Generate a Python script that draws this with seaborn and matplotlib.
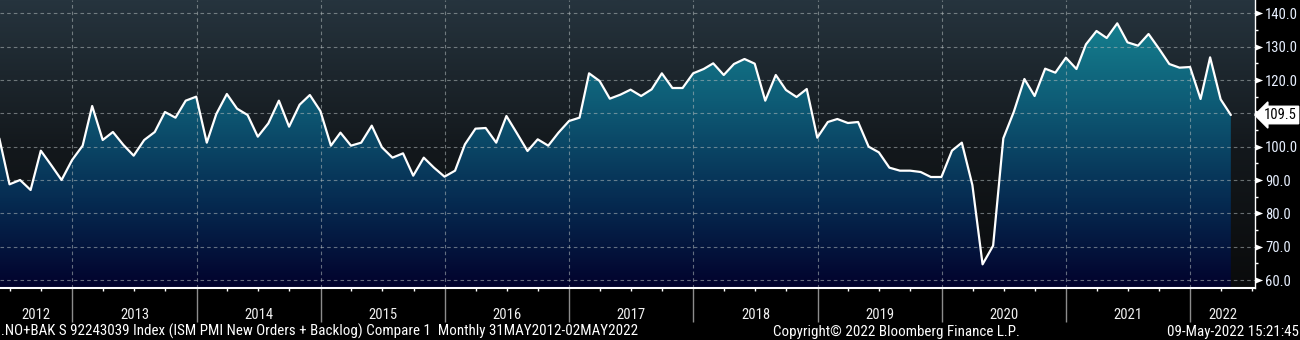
import numpy as np
import pandas as pd
import matplotlib
matplotlib.use("Agg")
import matplotlib.pyplot as plt
import matplotlib.dates as mdates
import matplotlib.transforms as mtransforms
from matplotlib.colors import LinearSegmentedColormap
from matplotlib.path import Path
import seaborn as sns

# ISM PMI New Orders + Backlog, monthly, May 2012 .. Apr 2022
values = [
    102.5, 88.7, 90.0, 87.0, 98.8, 94.4, 90.0, 96.0,
    100.3, 112.2, 102.0, 104.4, 100.5, 97.3, 102.0, 104.4, 110.4, 108.7, 113.8, 115.0,
    101.2, 109.8, 115.8, 111.4, 109.5, 103.0, 107.0, 113.8, 106.0, 112.6, 115.5, 110.7,
    100.3, 104.2, 100.3, 101.2, 106.3, 99.8, 96.7, 98.0, 91.3, 96.7, 93.7, 91.0,
    92.8, 100.7, 105.4, 105.6, 101.2, 109.2, 104.0, 98.7, 102.2, 100.3, 104.2, 107.7,
    108.7, 122.0, 119.7, 114.4, 115.6, 117.1, 115.2, 117.2, 122.0, 117.6, 117.6, 122.0,
    123.3, 125.0, 121.5, 124.8, 126.3, 124.9, 113.8, 121.5, 117.0, 114.9, 117.3, 102.7,
    107.4, 108.3, 107.1, 107.4, 100.0, 98.3, 93.7, 92.8, 92.8, 92.4, 90.9, 90.9,
    98.8, 101.2, 88.5, 64.7, 70.3, 102.5, 110.5, 120.3, 115.2, 123.4, 122.2, 126.7,
    123.3, 130.7, 134.7, 132.6, 137.0, 131.3, 130.3, 133.8, 129.5, 124.8, 123.7, 123.9,
    114.3, 126.8, 114.2, 109.5,
]
dates = pd.date_range("2012-06-01", periods=len(values), freq="MS") - pd.Timedelta(days=1)
years = list(range(2012, 2023))
y_ticks = list(range(60, 141, 10))
last_value = values[-1]

footer_left = ".NO+BAK S 92243039 Index (ISM PMI New Orders + Backlog) Compare 1  Monthly 31MAY2012-02MAY2022"
footer_mid = "Copyright\u00a9 2022 Bloomberg Finance L.P."
footer_right = "09-May-2022 15:21:45"

sns.set_theme(style="dark")
plt.rcParams["font.family"] = ["Roboto Condensed", "Liberation Sans", "DejaVu Sans"]

x_min, x_max = pd.Timestamp("2012-06-02"), pd.Timestamp("2022-07-10")
y_min, y_max = 57.6, 144.0
xn0, xn1 = mdates.date2num(x_min), mdates.date2num(x_max)

fig = plt.figure(figsize=(13, 3.4), dpi=100, facecolor="black")
ax = fig.add_axes([0, 1 - 288 / 340, 1255 / 1300, 288 / 340])
ax.set_facecolor("#0a0b0c")

grad = np.linspace(0, 1, 256).reshape(-1, 1)
bg_cmap = LinearSegmentedColormap.from_list(
    "bg", [(0, "#0a0b0c"), (0.48, "#13181c"), (1, "#26343e")])
fill_cmap = LinearSegmentedColormap.from_list(
    "fill", [(0, "#02022c"), (0.31, "#062c52"), (0.65, "#0e5c76"), (0.93, "#15808f"), (1, "#178896")])

ax.imshow(grad, extent=[xn0, xn1, y_min, y_max], origin="lower", aspect="auto",
          cmap=bg_cmap, zorder=0)

poly = ax.fill_between(mdates.date2num(dates), values, y_min, facecolor="none", edgecolor="none")
im = ax.imshow(grad, extent=[xn0, xn1, y_min, y_max], origin="lower", aspect="auto",
               cmap=fill_cmap, zorder=1)
im.set_clip_path(poly.get_paths()[0], transform=ax.transData)

# grid
grid_kw = dict(color="#b4bcbc", alpha=0.55, linewidth=0.8, dashes=(3.2, 2.8), zorder=2)
for v in y_ticks:
    ax.axhline(v, **grid_kw)
for yr in years[1:]:
    ax.axvline(mdates.date2num(pd.Timestamp(f"{yr}-01-01")), **grid_kw)

sns.lineplot(x=dates, y=values, color="white", linewidth=1.6, ax=ax, zorder=3)

ax.set_xlim(xn0, xn1)
ax.set_ylim(y_min, y_max)
ax.set_xlabel("")
ax.set_ylabel("")
ax.grid(False)

# x axis
ax.xaxis.set_major_locator(mdates.YearLocator())
ax.xaxis.set_minor_locator(mdates.MonthLocator(bymonth=[4, 7, 10]))
ax.tick_params(axis="x", which="major", length=24.5, width=1, color="#8c8c8c",
               direction="out", labelbottom=False, bottom=True)
ax.tick_params(axis="x", which="minor", length=2.5, width=1, color="white",
               direction="out", bottom=True)

# y axis on the right
ax.yaxis.tick_right()
ax.set_yticks(y_ticks)
ax.set_yticks([v + 5 for v in y_ticks[:-1]], minor=True)
ax.set_yticklabels([f"{v:.1f}" for v in y_ticks])
ax.tick_params(axis="y", which="major", length=0, pad=7.2, labelsize=10.5,
               labelcolor="#e8f0ff", right=True, left=False)
ax.tick_params(axis="y", which="minor", length=2.2, width=1, color="white",
               direction="out", right=True, left=False)

for side in ["top", "left"]:
    ax.spines[side].set_visible(False)
ax.spines["right"].set_color("white")
ax.spines["right"].set_linewidth(1)
ax.spines["bottom"].set_color("white")
ax.spines["bottom"].set_linewidth(1.5)

blend = mtransforms.blended_transform_factory(ax.transAxes, ax.transData)
tri = Path([(0, -0.4), (1, 0), (0, 0.4), (0, -0.4)],
           [Path.MOVETO, Path.LINETO, Path.LINETO, Path.CLOSEPOLY])
ax.plot([1.0] * len(y_ticks), y_ticks, linestyle="none", marker=tri, markersize=11,
        color="white", markeredgewidth=0, transform=blend, clip_on=False, zorder=5)

ax.text(1.0 + 9 / 1255, last_value, f"{last_value:.1f}", transform=blend,
        ha="left", va="center", fontsize=10.5, color="black", zorder=6,
        bbox=dict(boxstyle="larrow,pad=0.12", fc="white", ec="white"))

# year labels in the bottom band
xblend = mtransforms.blended_transform_factory(ax.transData, ax.transAxes)
for yr in years:
    a = max(mdates.date2num(pd.Timestamp(f"{yr}-01-01")), xn0)
    b = min(mdates.date2num(pd.Timestamp(f"{yr + 1}-01-01")), xn1)
    ax.text((a + b) / 2, (288 - 319) / 288, str(yr), transform=xblend,
            ha="center", va="baseline", fontsize=10.5, color="#f0f0f0")

fig.text(1 / 1300, 1 - 336 / 340, footer_left, ha="left", va="baseline",
         fontsize=10.8, color="white")
fig.text(896 / 1300, 1 - 336 / 340, footer_mid, ha="center", va="baseline",
         fontsize=10.8, color="white")
fig.text(1299 / 1300, 1 - 336 / 340, footer_right, ha="right", va="baseline",
         fontsize=10.8, color="white")

fig.savefig("out.png", dpi=100, facecolor="black")
